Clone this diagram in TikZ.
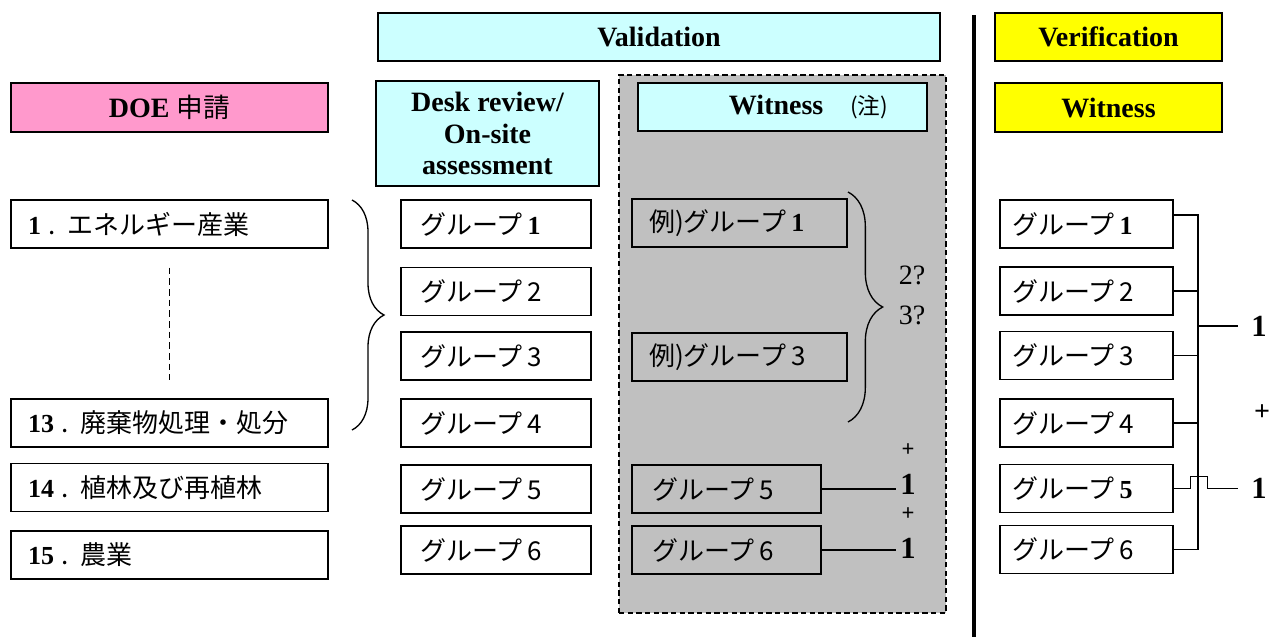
\documentclass[tikz,border=0pt]{standalone}
\usepackage{fontspec}
\setmainfont{Liberation Serif}
\newfontfamily\jpfam{Noto Sans CJK JP}
\usetikzlibrary{decorations.pathreplacing}
\definecolor{pinkc}{HTML}{FF99CC}
\definecolor{cyanc}{HTML}{CCFFFF}
\definecolor{yellowc}{HTML}{FFFF00}
\definecolor{grayc}{HTML}{C0C0C0}
\newcommand\jpf{\jpfam\fontsize{19.5}{23}\selectfont}
\newcommand\hdrf{\fontsize{21}{23.6}\selectfont\bfseries}
\newcommand\sd[1]{{\rmfamily\bfseries #1}}
\newcommand\jdot{\hspace{0.3em}.\hspace{0.45em}}
\begin{document}
\begin{tikzpicture}[x=0.75pt,y=-0.75pt,
  hdr/.style={draw, line width=1.2pt, inner sep=0pt, font=\hdrf, align=center},
  gbox/.style={draw, line width=1pt, inner ysep=0pt, minimum height=36pt, align=left, font=\jpf},
  lbox/.style={gbox, text width=212.25pt, inner xsep=12.75pt},
  dbox/.style={gbox, text width=114pt, inner xsep=14.25pt},
  ebox/.style={gbox, text width=135.75pt, inner xsep=12.75pt},
  fbox/.style={gbox, text width=111.75pt, inner xsep=15pt},
  rbox/.style={gbox, text width=111.75pt, inner xsep=9pt},
  conn/.style={line width=0.8pt},
  numlab/.style={inner sep=1pt, font=\fontsize{23}{26}\selectfont\bfseries},
  pluslab/.style={inner sep=1pt, font=\fontsize{17}{20}\selectfont\bfseries},
  qlab/.style={inner sep=1pt, font=\fontsize{21}{24}\selectfont},
  bracestyle/.style={decorate, line width=1pt},
]
\useasboundingbox (0,0) rectangle (1281,637);

% witness zone background
\node[draw, fill=grayc, dash pattern=on 4pt off 2.5pt, line width=1.1pt,
      minimum width=245.25pt, minimum height=403.5pt, inner sep=0pt] (wzone) at (782.5,344) {};

% separator
\draw[line width=3pt] (974,15) -- (974,637);

% headers
\node[hdr, fill=cyanc, minimum width=421.5pt, minimum height=36pt] (valid) at (659,37) {Validation};
\node[hdr, fill=yellowc, minimum width=170.25pt, minimum height=36pt] (verif) at (1108.5,37) {Verification};
\node[hdr, fill=pinkc, minimum width=237.75pt, minimum height=36.75pt] (doe) at (169.5,107.5) {DOE {\jpfam\mdseries\fontsize{20}{23}\selectfont 申請}};
\node[hdr, fill=cyanc, minimum width=167.25pt, minimum height=78.75pt] (desk) at (487.5,133.5) {Desk review/\\On-site\\assessment};
\node[hdr, fill=cyanc, minimum width=216.75pt, minimum height=36pt] (wit) at (782.5,107) {\hspace*{39pt}Witness\hspace{20pt}{\jpfam\mdseries\fontsize{17}{20}\selectfont (注)}};
\node[hdr, fill=yellowc, minimum width=170.25pt, minimum height=36.75pt] (vwit) at (1108.5,107.5) {Witness};

% left column
\node[lbox] (l1) at (169.5,224) {\sd{1}\jdot エネルギー産業};
\node[lbox] (l13) at (169.5,423) {\sd{13}\jdot 廃棄物処理・処分};
\node[lbox] (l14) at (169.5,487.5) {\sd{14}\jdot 植林及び再植林};
\node[lbox] (l15) at (169.5,555) {\sd{15}\jdot 農業};
\draw[line width=1.2pt, dash pattern=on 5pt off 3pt] ([yshift=-14.25pt]l1.south) -- ([yshift=13.5pt]l13.north);

% left brace
\coordinate (lbt) at (352,200);
\coordinate (lbb) at (352,430);
\draw[bracestyle, decoration={brace, amplitude=24pt}] (lbt) -- (lbb);

% desk column
\node[dbox] (d1) at (496,224) {グループ\hspace{0.2em}\sd{1}};
\node[dbox] (d2) at (496,291.5) {グループ\hspace{0.2em}2};
\node[dbox] (d3) at (496,356) {グループ\hspace{0.2em}3};
\node[dbox] (d4) at (496,423) {グループ\hspace{0.2em}4};
\node[dbox] (d5) at (496,489) {グループ\hspace{0.2em}5};
\node[dbox] (d6) at (496,550) {グループ\hspace{0.2em}6};

% witness column
\node[ebox, fill=grayc] (e1) at (739.5,223) {例)グループ\hspace{0.2em}\sd{1}};
\node[ebox, fill=grayc] (e3) at (739.5,357) {例)グループ\hspace{0.2em}3};
\node[fbox, fill=grayc] (e5) at (726.5,489) {グループ\hspace{0.2em}5};
\node[fbox, fill=grayc] (e6) at (726.5,550) {グループ\hspace{0.2em}6};

\coordinate (wbt) at (848,192);
\coordinate (wbb) at (848,422);
\draw[bracestyle, decoration={brace, amplitude=26pt}] (wbt) -- (wbb);
\node[qlab] (q2) at (912,275) {2?};
\node[qlab] (q3) at (912,315) {3?};

\node[pluslab] (p1) at (908,450) {+};
\node[numlab] (n5) at (908,484) {1};
\node[pluslab] (p2) at (908,514) {+};
\node[numlab] (n6) at (908,548.5) {1};
\draw[conn] (e5.east) -- ++(74,0);
\draw[conn] (e6.east) -- ++(74,0);

% right column
\node[rbox] (r1) at (1086.5,224) {グループ\hspace{0.2em}\sd{1}};
\node[rbox] (r2) at (1086.5,291) {グループ\hspace{0.2em}2};
\node[rbox] (r3) at (1086.5,355.5) {グループ\hspace{0.2em}3};
\node[rbox] (r4) at (1086.5,423) {グループ\hspace{0.2em}4};
\node[rbox] (r5) at (1086.5,488.5) {グループ\hspace{0.2em}\sd{5}};
\node[rbox] (r6) at (1086.5,549.5) {グループ\hspace{0.2em}6};

\node[numlab] (o1) at (1259,326) {1};
\node[font=\fontsize{21}{24}\selectfont\bfseries, inner sep=1pt] (op) at (1262,413) {+};
\node[numlab] (o2) at (1259,488.5) {1};

\coordinate (bt) at (1198,215);
\coordinate (bb) at (1198,549.5);
\coordinate (bo) at (1198,326);
\draw[conn] ([yshift=6.75pt]r1.east) -- (bt) -- (bb) -- (r6.east);
\draw[conn] (r2.east) -- (r2.east -| bt);
\draw[conn] (r3.east) -- (r3.east -| bt);
\draw[conn] (r4.east) -- (r4.east -| bt);
\draw[conn] (bo) -- ([xshift=-9pt]o1.west);
\draw[conn] (r5.east) -- ++(17,0) -- ++(0,-12) -- ++(17,0) -- ++(0,12) -- ([xshift=-9pt]o2.west);
\end{tikzpicture}
\end{document}
